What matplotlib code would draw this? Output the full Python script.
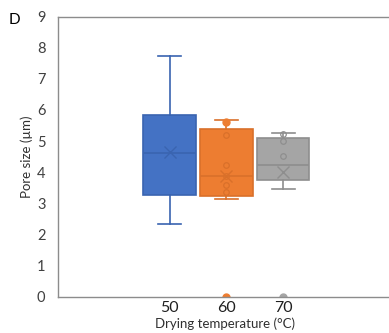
import matplotlib

matplotlib.use("Agg")
import matplotlib.pyplot as plt

# values (pore size, µm)
categories = ["50", "60", "70"]
q1 = [3.26, 3.24, 3.76]
medians = [4.60, 3.86, 4.22]
q3 = [5.84, 5.39, 5.11]
whisker_low = [2.32, 3.14, 3.46]
whisker_high = [7.74, 5.66, 5.26]
means = [4.65, 3.87, 4.01]
inner_points = [[], [5.18, 4.22, 3.87, 3.57, 3.35], [5.21, 5.00, 4.52]]
filled_points = [[], [5.62, 0.0], [0.0]]

fill_colors = ["#4472C4", "#ED7D31", "#A5A5A5"]
edge_colors = ["#3A64B0", "#D9702A", "#8E8E8E"]

plt.rcParams["font.family"] = ["Lato", "DejaVu Sans"]

fig = plt.figure(figsize=(3.89, 3.33), dpi=100)
ax = fig.add_axes([0.149, 0.1096, 0.86, 0.8405])

positions = [1, 2, 3]
for i, pos in enumerate(positions):
    stats = [{
        "med": medians[i], "q1": q1[i], "q3": q3[i],
        "whislo": whisker_low[i], "whishi": whisker_high[i],
        "mean": means[i], "fliers": [],
    }]
    ax.bxp(
        stats, positions=[pos], widths=0.92, patch_artist=True,
        showmeans=True, showfliers=False,
        boxprops=dict(facecolor=fill_colors[i], edgecolor=edge_colors[i], linewidth=1.2),
        medianprops=dict(color=edge_colors[i], linewidth=1.2),
        whiskerprops=dict(color=edge_colors[i], linewidth=1.2),
        capprops=dict(color=edge_colors[i], linewidth=1.2),
        capwidths=0.4,
        meanprops=dict(marker="x", markeredgecolor=edge_colors[i], markersize=8, markeredgewidth=1.0),
    )
    if inner_points[i]:
        ax.plot([pos] * len(inner_points[i]), inner_points[i], linestyle="none", marker="o",
                markersize=4, markerfacecolor="none", markeredgecolor=edge_colors[i],
                markeredgewidth=0.9)
    if filled_points[i]:
        ax.plot([pos] * len(filled_points[i]), filled_points[i], linestyle="none", marker="o",
                markersize=5, color=fill_colors[i], clip_on=True)

ax.set_xlim(-0.964, 4.92)
ax.set_ylim(0, 9)
ax.set_yticks(range(0, 10))
ax.set_xticks(positions)
ax.set_xticklabels(categories, fontsize=11.5)
ax.tick_params(axis="y", length=0, pad=9, labelsize=10.5, colors="#404040")
ax.tick_params(axis="x", length=0, pad=3, colors="#202020")
for side in ["left", "bottom", "top"]:
    ax.spines[side].set_color("#8C8C8C")
    ax.spines[side].set_linewidth(1.0)
ax.spines["right"].set_visible(False)

ax.set_xlabel("Drying temperature (°C)", fontsize=9.5, labelpad=2, color="#303030")
ax.set_ylabel("Pore size (µm)", fontsize=9.5, labelpad=3, color="#303030")
fig.text(0.036, 0.94, "D", fontsize=11, ha="center", va="center")

fig.savefig("out.png", dpi=100)
